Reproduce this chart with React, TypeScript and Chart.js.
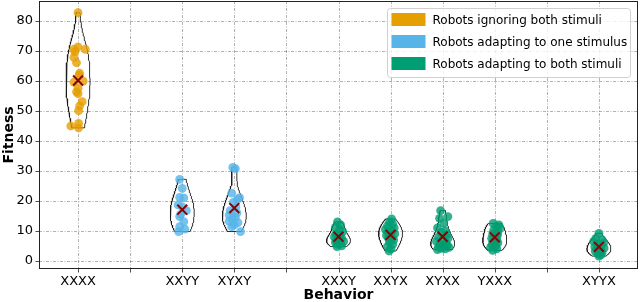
import React, { useEffect, useRef } from "react";
import { Chart, registerables } from "chart.js";
Chart.register(...registerables);

// ---- axis data ----
const tickPositions = [0, 1, 2, 3, 4, 5, 6, 7, 8, 9, 10];
const tickLabels = ["XXXX", "", "XXYY", "XYXY", "", "XXXY", "XXYX", "XYXX", "YXXX", "", "XYYX"];
const yTicks = [0, 10, 20, 30, 40, 50, 60, 70, 80];

// ---- legend ----
const legendLabels = [
  "Robots ignoring both stimuli",
  "Robots adapting to one stimulus",
  "Robots adapting to both stimuli",
];
const legendColors = ["#E69F00", "#56B4E9", "#009E73"];

// ---- groups ----
const groupPositions = [0, 2, 3, 5, 6, 7, 8, 10];
const groupCategory = [0, 1, 1, 2, 2, 2, 2, 2];

const xxxxValues = [82.8, 71.4, 70.6, 70.6, 69.8, 67.9, 66.1, 62.6, 62.0, 60.0, 59.6, 57.6, 56.4, 55.8, 53.1, 51.7, 50.1, 45.0, 45.9, 44.4];
const xxxxJitter = [0, 0, -0.08, 0.14, -0.06, -0.08, -0.03, 0.03, 0.02, 0.1, -0.08, 0, -0.03, 0, 0.08, 0.03, 0.01, -0.14, 0.01, 0.01];

const xxyyValues = [27.2, 24.2, 21.2, 21.0, 18.7, 18.0, 16.8, 15.5, 14.8, 13.1, 11.4, 10.6, 9.8];
const xxyyJitter = [-0.05, 0, -0.05, 0.03, -0.08, 0, 0.08, -0.03, -0.05, 0.03, -0.05, 0.05, -0.07];

const xyxyValues = [31.2, 30.8, 22.6, 21.1, 20.5, 19.5, 18.0, 16.8, 16.0, 15.3, 14.5, 14.0, 13.3, 12.8, 12.0, 11.4, 9.8];
const xyxyJitter = [-0.03, 0.02, -0.05, 0.1, 0.06, -0.02, 0.03, -0.08, 0.05, -0.1, 0.02, -0.04, -0.1, 0.07, 0, -0.05, 0.12];

const xxxyValues = [13.0, 12.0, 11.2, 10.5, 9.8, 9.0, 8.5, 8.0, 7.6, 7.2, 6.8, 6.5, 6.2, 5.8, 5.5, 5.0, 4.8];
const xxxyJitter = [-0.02, 0.04, -0.06, 0.02, 0.08, -0.05, 0.03, -0.08, 0.06, 0, -0.04, 0.1, -0.06, 0.04, -0.02, 0.06, -0.03];

const xxyxValues = [14.0, 13.0, 12.3, 11.7, 11.0, 10.5, 10.0, 9.5, 9.0, 8.5, 8.0, 7.5, 7.0, 6.3, 5.5, 4.8, 4.0, 3.3];
const xxyxJitter = [0.02, -0.02, 0.04, -0.06, 0.07, -0.1, 0.03, -0.05, 0.08, -0.08, 0.02, -0.04, 0.06, -0.02, 0.04, -0.06, 0.01, -0.03];

const xyxxValues = [16.8, 14.8, 14.2, 12.5, 11.0, 10.0, 9.5, 8.8, 8.0, 7.5, 7.0, 6.5, 6.0, 5.5, 5.2, 5.0, 4.6, 4.5, 4.2, 4.0, 3.8];
const xyxxJitter = [-0.04, 0.1, -0.06, 0.02, -0.1, 0.05, -0.03, 0.08, -0.08, 0.1, 0, -0.12, 0.06, -0.05, 0.09, 0.02, -0.08, 0.12, -0.02, 0.05, -0.1];

const yxxxValues = [12.5, 12.0, 11.5, 11.0, 10.3, 9.5, 9.0, 8.5, 8.0, 7.5, 7.0, 6.5, 6.0, 5.5, 5.0, 4.5, 4.0, 3.5];
const yxxxJitter = [-0.03, 0.08, 0.03, 0.1, -0.02, 0.06, -0.04, 0.05, 0.01, -0.06, 0.04, -0.03, 0.06, -0.05, 0.02, -0.08, 0.04, -0.04];

const xyyxValues = [9.2, 7.5, 7.0, 6.5, 6.0, 5.5, 5.0, 4.7, 4.3, 4.0, 3.6, 3.2, 2.8, 2.4, 2.0, 1.6];
const xyyxJitter = [0, -0.06, 0.06, -0.1, 0.09, -0.03, 0.04, -0.08, 0.1, -0.04, 0.03, -0.07, 0.06, -0.02, 0.04, 0];

const groupValues = [xxxxValues, xxyyValues, xyxyValues, xxxyValues, xxyxValues, xyxxValues, yxxxValues, xyyxValues];
const groupJitter = [xxxxJitter, xxyyJitter, xyxyJitter, xxxyJitter, xxyxJitter, xyxxJitter, yxxxJitter, xyyxJitter];

const VIOLIN_HALF = 0.23;
const FONT = '"DejaVu Sans", "Liberation Sans", sans-serif';

function hexA(hex: string, a: number) {
  const n = parseInt(hex.slice(1), 16);
  return `rgba(${(n >> 16) & 255},${(n >> 8) & 255},${n & 255},${a})`;
}

function violinOutline(vals: number[], center: number) {
  const n = vals.length;
  const mean = vals.reduce((s, v) => s + v, 0) / n;
  const sd = Math.sqrt(vals.reduce((s, v) => s + (v - mean) ** 2, 0) / (n - 1));
  const bw = sd * Math.pow(n, -1 / 5);
  const lo = Math.min(...vals);
  const hi = Math.max(...vals);
  const steps = 100;
  const ys: number[] = [];
  const ds: number[] = [];
  for (let i = 0; i < steps; i++) {
    const y = lo + ((hi - lo) * i) / (steps - 1);
    let d = 0;
    for (const v of vals) d += Math.exp(-0.5 * ((y - v) / bw) ** 2);
    ys.push(y);
    ds.push(d);
  }
  const mx = Math.max(...ds);
  const right = ys.map((y, i) => ({ x: center + (ds[i] / mx) * VIOLIN_HALF, y }));
  const left = ys.map((y, i) => ({ x: center - (ds[i] / mx) * VIOLIN_HALF, y })).reverse();
  const pts = [...right, ...left];
  pts.push(pts[0]);
  return pts;
}

const framePlugin = {
  id: "frameGrid",
  beforeDatasetsDraw(chart: any) {
    const { ctx, chartArea: a, scales } = chart;
    ctx.save();
    ctx.strokeStyle = "rgba(0,0,0,0.38)";
    ctx.lineWidth = 0.8;
    ctx.setLineDash([3, 1.5, 1, 1.5]);
    for (const v of tickPositions) {
      const x = Math.round(scales.x.getPixelForValue(v)) + 0.5;
      ctx.beginPath();
      ctx.moveTo(x, a.top);
      ctx.lineTo(x, a.bottom);
      ctx.stroke();
    }
    for (const v of yTicks) {
      const y = Math.round(scales.y.getPixelForValue(v)) + 0.5;
      ctx.beginPath();
      ctx.moveTo(a.left, y);
      ctx.lineTo(a.right, y);
      ctx.stroke();
    }
    ctx.restore();
  },
  afterDatasetsDraw(chart: any) {
    const { ctx, chartArea: a, scales } = chart;
    ctx.save();
    ctx.strokeStyle = "#222";
    ctx.lineWidth = 1;
    ctx.setLineDash([]);
    ctx.strokeRect(Math.round(a.left) + 0.5, Math.round(a.top) + 0.5, Math.round(a.right - a.left) - 1, Math.round(a.bottom - a.top) - 1);
    ctx.lineWidth = 0.8;
    for (const v of tickPositions) {
      const x = Math.round(scales.x.getPixelForValue(v)) + 0.5;
      ctx.beginPath();
      ctx.moveTo(x, a.bottom);
      ctx.lineTo(x, a.bottom + 3.5);
      ctx.stroke();
    }
    for (const v of yTicks) {
      const y = Math.round(scales.y.getPixelForValue(v)) + 0.5;
      ctx.beginPath();
      ctx.moveTo(a.left, y);
      ctx.lineTo(a.left - 3.5, y);
      ctx.stroke();
    }
    // legend
    const bx = a.right - 250.5;
    const by = 8.5;
    const bwid = 243;
    const bh = 69;
    ctx.beginPath();
    ctx.roundRect(bx, by, bwid, bh, 3);
    ctx.fillStyle = "rgba(255,255,255,0.8)";
    ctx.fill();
    ctx.strokeStyle = "#d0d0d0";
    ctx.lineWidth = 1;
    ctx.stroke();
    ctx.font = `12px ${FONT}`;
    ctx.textBaseline = "middle";
    ctx.textAlign = "left";
    legendLabels.forEach((lab, i) => {
      const cy = 20 + i * 22;
      ctx.fillStyle = legendColors[i];
      ctx.fillRect(bx + 4, cy - 7, 34, 13);
      ctx.fillStyle = "#000";
      ctx.fillText(lab, bx + 45, cy + 1);
    });
    ctx.restore();
  },
};

export default function App() {
  const ref = useRef<HTMLCanvasElement | null>(null);
  useEffect(() => {
    document.body.style.margin = "0";
    const canvas = ref.current!;
    const datasets: any[] = [];
    groupValues.forEach((vals, g) => {
      const c = groupPositions[g];
      datasets.push({
        type: "scatter",
        data: violinOutline(vals, c),
        showLine: true,
        pointRadius: 0,
        borderColor: "#1a1a1a",
        borderWidth: 0.9,
        fill: false,
        tension: 0,
        order: 3,
      });
      datasets.push({
        type: "scatter",
        data: vals.map((v, i) => ({ x: c + groupJitter[g][i], y: v })),
        pointRadius: 4.4,
        pointBorderWidth: 0,
        backgroundColor: hexA(legendColors[groupCategory[g]], 0.8),
        order: 2,
      });
      const mean = vals.reduce((s, v) => s + v, 0) / vals.length;
      datasets.push({
        type: "scatter",
        data: [{ x: c, y: mean }],
        pointStyle: "crossRot",
        pointRadius: 7,
        borderColor: "#8B0000",
        pointBorderWidth: 2,
        order: 1,
      });
    });
    const chart = new Chart(canvas, {
      type: "scatter",
      data: { datasets },
      plugins: [framePlugin],
      options: {
        animation: false,
        responsive: false,
        devicePixelRatio: 1,
        layout: { autoPadding: false, padding: { top: 1, right: 2, left: 0, bottom: 0 } },
        plugins: { legend: { display: false }, tooltip: { enabled: false } },
        scales: {
          x: {
            type: "linear",
            min: -0.75,
            max: 10.75,
            afterBuildTicks: (s: any) => {
              s.ticks = tickPositions.map((v) => ({ value: v }));
            },
            afterFit: (s: any) => {
              s.height = 33;
              s.paddingLeft = 0;
              s.paddingRight = 0;
            },
            grid: { display: false, drawTicks: false, tickLength: 0 },
            border: { display: false },
            ticks: {
              autoSkip: false,
              maxRotation: 0,
              padding: 5,
              color: "#000",
              font: { family: FONT, size: 13 },
              callback: (_v: any, i: number) => tickLabels[i],
            },
            title: {
              display: true,
              text: "Behavior",
              color: "#000",
              font: { family: FONT, size: 14, weight: "bold" },
              padding: { top: 0, bottom: -2 },
            },
          },
          y: {
            type: "linear",
            min: -2.7,
            max: 86.7,
            afterBuildTicks: (s: any) => {
              s.ticks = yTicks.map((v) => ({ value: v }));
            },
            afterFit: (s: any) => {
              s.width = 39;
              s.paddingTop = 0;
              s.paddingBottom = 0;
            },
            grid: { display: false, drawTicks: false, tickLength: 0 },
            border: { display: false },
            ticks: {
              padding: 6,
              color: "#000",
              font: { family: FONT, size: 13 },
            },
            title: {
              display: true,
              text: "Fitness",
              color: "#000",
              font: { family: FONT, size: 14, weight: "bold" },
              padding: { top: 1, bottom: 0 },
            },
          },
        },
      } as any,
    });
    return () => chart.destroy();
  }, []);
  return (
    <div style={{ width: 640, height: 302, position: "relative" }}>
      <canvas ref={ref} width={640} height={302} />
    </div>
  );
}
